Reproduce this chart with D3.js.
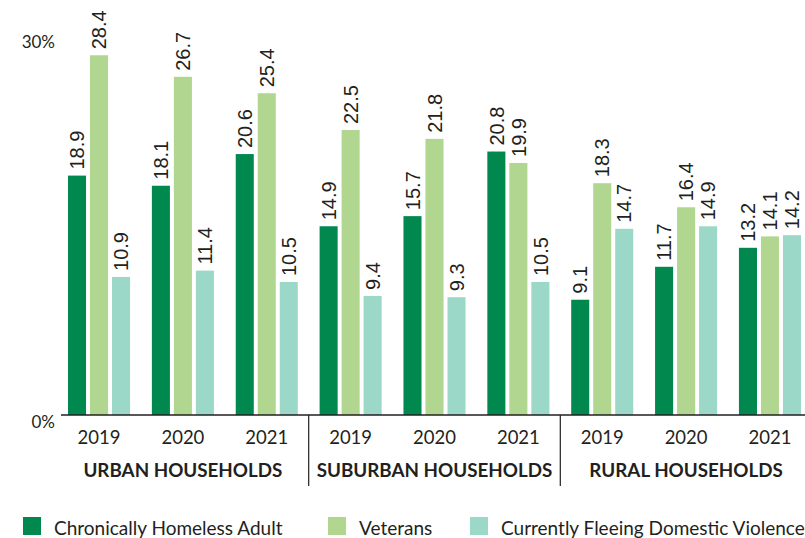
<!DOCTYPE html>
<html>
<head>
<meta charset="utf-8">
<script src="https://cdn.jsdelivr.net/npm/d3@7"></script>
<style>
    body { margin: 0; background: #fff; }
    svg { display: block; }
    text { fill: #231f20; }
</style>
</head>
<body>
<div class="chart"></div>
<script>
var regions = ["URBAN HOUSEHOLDS", "SUBURBAN HOUSEHOLDS", "RURAL HOUSEHOLDS"];
var years = ["2019", "2020", "2021"];
var seriesNames = ["Chronically Homeless Adult", "Veterans", "Currently Fleeing Domestic Violence"];
var chronic = [18.9, 18.1, 20.6, 14.9, 15.7, 20.8, 9.1, 11.7, 13.2];
var veterans = [28.4, 26.7, 25.4, 22.5, 21.8, 19.9, 18.3, 16.4, 14.1];
var fleeing = [10.9, 11.4, 10.5, 9.4, 9.3, 10.5, 14.7, 14.9, 14.2];
var yTicks = [0, 30];
var colors = ["#00884f", "#b1d690", "#9cd8c8"];

(function () {
    var width = 805,
        height = 538,
        baseline = 415,
        svg, x, xInner, y, groups, keys, series;

    series = [chronic, veterans, fleeing];
    keys = [];
    regions.forEach(function (r, ri) {
        years.forEach(function (yr, yi) {
            keys.push({ key: ri + "-" + yr, region: ri, year: yr, idx: ri * 3 + yi });
        });
    });

    svg = d3.select(".chart").append("svg")
        .attr("width", width)
        .attr("height", height);

    x = d3.scaleBand()
        .domain(keys.map(function (k) { return k.key; }))
        .range([68, 801])
        .paddingInner(0.26)
        .paddingOuter(0);

    xInner = d3.scaleBand()
        .domain(d3.range(series.length))
        .range([0, x.bandwidth()])
        .paddingInner(0.18);

    y = d3.scaleLinear().domain([0, 30]).range([baseline, baseline - 380]);

    groups = svg.selectAll("g.group")
        .data(keys)
        .enter()
        .append("g")
        .attr("class", "group")
        .attr("transform", function (k) { return "translate(" + x(k.key) + ",0)"; });

    groups.selectAll("rect")
        .data(function (k) {
            return series.map(function (s, si) { return { s: si, v: s[k.idx] }; });
        })
        .enter()
        .append("rect")
        .attr("x", function (d) { return xInner(d.s); })
        .attr("y", function (d) { return y(d.v); })
        .attr("width", xInner.bandwidth())
        .attr("height", function (d) { return baseline - y(d.v); })
        .attr("fill", function (d) { return colors[d.s]; });

    groups.selectAll("text.val")
        .data(function (k) {
            return series.map(function (s, si) { return { s: si, v: s[k.idx] }; });
        })
        .enter()
        .append("text")
        .attr("class", "val")
        .attr("transform", function (d) {
            return "translate(" + (xInner(d.s) + xInner.bandwidth() / 2) + "," + (y(d.v) - 6) + ") rotate(-90)";
        })
        .attr("dy", "0.36em")
        .style("font-family", "'Liberation Sans', Arial, sans-serif")
        .style("font-size", "20px")
        .text(function (d) { return d.v.toFixed(1); });

    // year labels
    groups.append("text")
        .attr("x", x.bandwidth() / 2)
        .attr("y", 444)
        .attr("text-anchor", "middle")
        .style("font-family", "Lato, sans-serif")
        .style("font-size", "18.5px")
        .text(function (k) { return k.year; });

    // baseline
    svg.append("line")
        .attr("x1", 61).attr("x2", width)
        .attr("y1", baseline).attr("y2", baseline)
        .attr("stroke", "#231f20").attr("stroke-width", 1.5);

    // y tick labels
    svg.selectAll("text.ytick")
        .data(yTicks)
        .enter()
        .append("text")
        .attr("class", "ytick")
        .attr("x", 55)
        .attr("y", function (d) { return y(d) + 7; })
        .attr("dy", "0.35em")
        .attr("text-anchor", "end")
        .style("font-family", "Lato, sans-serif")
        .style("font-size", "17px")
        .text(function (d) { return d + "%"; });

    // region labels and dividers
    regions.forEach(function (r, ri) {
        var first = x(ri + "-2019"),
            last = x(ri + "-2021") + x.bandwidth();
        svg.append("text")
            .attr("x", (first + last) / 2)
            .attr("y", 477)
            .attr("text-anchor", "middle")
            .style("font-family", "Lato, sans-serif")
            .style("font-weight", "bold")
            .style("font-size", "18.8px")
            .text(r);
        if (ri > 0) {
            var mid = (x((ri - 1) + "-2021") + x.bandwidth() + first) / 2;
            svg.append("line")
                .attr("x1", mid).attr("x2", mid)
                .attr("y1", baseline).attr("y2", 486)
                .attr("stroke", "#231f20").attr("stroke-width", 1.2);
        }
    });

    // legend
    var legendX = [23, 328, 470];
    var legend = svg.selectAll("g.legend")
        .data(seriesNames)
        .enter()
        .append("g")
        .attr("class", "legend")
        .attr("transform", function (d, i) { return "translate(" + legendX[i] + ",517)"; });

    legend.append("rect")
        .attr("width", 18).attr("height", 18)
        .attr("fill", function (d, i) { return colors[i]; });

    legend.append("text")
        .attr("x", 31)
        .attr("y", 11)
        .attr("dy", "0.35em")
        .style("font-family", "Lato, sans-serif")
        .style("font-size", "19px")
        .text(function (d) { return d; });
})();
</script>
</body>
</html>
